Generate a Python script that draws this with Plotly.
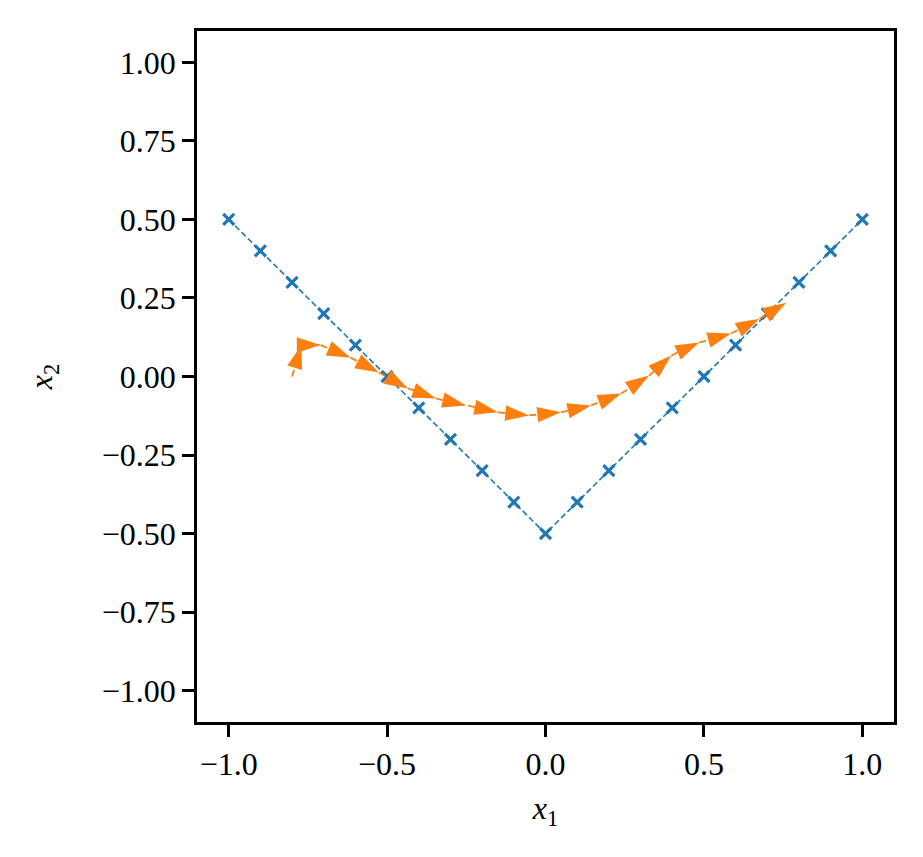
import plotly.graph_objects as go

# blue reference curve
x_ref = [-1.0, -0.9, -0.8, -0.7, -0.6, -0.5, -0.4, -0.3, -0.2, -0.1, 0.0,
         0.1, 0.2, 0.3, 0.4, 0.5, 0.6, 0.7, 0.8, 0.9, 1.0]
y_ref = [0.5, 0.4, 0.3, 0.2, 0.1, 0.0, -0.1, -0.2, -0.3, -0.4, -0.5,
         -0.4, -0.3, -0.2, -0.1, 0.0, 0.1, 0.2, 0.3, 0.4, 0.5]

# orange trajectory
x_traj = [-0.80, -0.77, -0.71, -0.615, -0.526, -0.434, -0.346, -0.251, -0.150, -0.052,
          0.049, 0.144, 0.239, 0.327, 0.397, 0.485, 0.586, 0.675, 0.760]
y_traj = [0.00, 0.10, 0.10, 0.060, 0.013, -0.038, -0.070, -0.092, -0.114, -0.124,
          -0.114, -0.092, -0.054, 0.003, 0.067, 0.108, 0.137, 0.184, 0.235]

x_ticks = [-1.0, -0.5, 0.0, 0.5, 1.0]
y_ticks = [-1.0, -0.75, -0.5, -0.25, 0.0, 0.25, 0.5, 0.75, 1.0]

BLUE = "#1f77b4"
ORANGE = "#ff7f0e"
FONT = "Liberation Serif"

fig = go.Figure()

fig.add_trace(go.Scatter(
    x=x_ref, y=y_ref, mode="lines+markers",
    line=dict(color=BLUE, width=1.6, dash="6px,3px"),
    marker=dict(symbol="x-thin", size=11, line=dict(color=BLUE, width=3.2)),
    showlegend=False,
))

fig.add_trace(go.Scatter(
    x=x_traj, y=y_traj, mode="lines+markers",
    line=dict(color=ORANGE, width=1.8, dash="7px,4px"),
    marker=dict(symbol="arrow", size=25, color=ORANGE, angleref="previous",
                line=dict(width=0)),
    showlegend=False,
))

axis_common = dict(
    showline=True, linecolor="black", linewidth=2.5, mirror=True,
    ticks="outside", ticklen=12, tickwidth=2.5, tickcolor="black",
    showgrid=False, zeroline=False,
    tickfont=dict(family=FONT, size=32, color="black"),
)

# the page adds an 8px body margin, so margins are trimmed to match
fig.update_layout(
    width=923, height=857,
    margin=dict(l=189, r=37, t=23, b=143),
    paper_bgcolor="white", plot_bgcolor="white",
    font=dict(family=FONT, color="black"),
    xaxis=dict(range=[-1.1, 1.1], tickvals=x_ticks, tickformat=".1f",
               title=dict(text="<i>x</i><sub>1</sub>", font=dict(family=FONT, size=32),
                          standoff=16),
               **axis_common),
    yaxis=dict(range=[-1.1, 1.1], tickvals=y_ticks, tickformat=".2f",
               title=dict(text="<i>x</i><sub>2</sub>", font=dict(family=FONT, size=32),
                          standoff=40),
               **axis_common),
)

fig.write_html("out.html")
